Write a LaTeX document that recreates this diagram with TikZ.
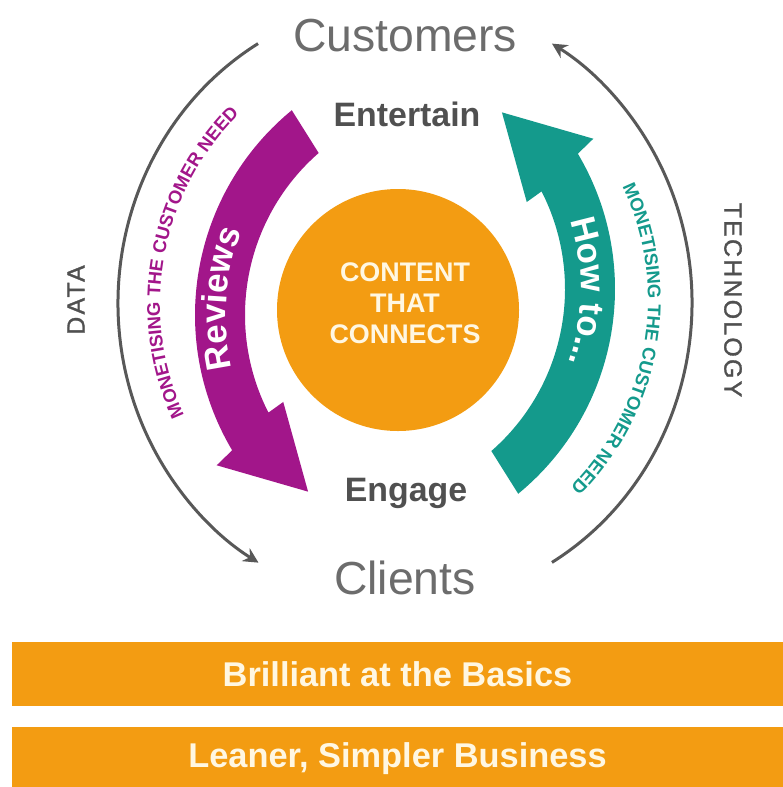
\documentclass[tikz,border=0pt]{standalone}
\usepackage{fontspec}
\setmainfont{Liberation Sans}
\usetikzlibrary{calc,arrows.meta,decorations.text}
\definecolor{orng}{RGB}{243,156,18}
\definecolor{purp}{RGB}{162,22,138}
\definecolor{tealc}{RGB}{20,154,140}
\definecolor{grayline}{RGB}{88,88,88}
\definecolor{graytxt}{RGB}{108,108,108}
\definecolor{darktxt}{RGB}{80,80,80}
\definecolor{cream}{RGB}{255,247,226}
\begin{document}
\begin{tikzpicture}[x=1bp,y=-1bp,
  ring/.style={line width=3bp, draw=grayline, -{Stealth[length=15bp,width=15bp]}},
  bigword/.style={inner sep=0, text=graytxt, font=\fontsize{46.5}{50}\selectfont},
  midword/.style={inner sep=0, text=darktxt, font=\bfseries\fontsize{34}{38}\selectfont},
  sideword/.style={inner sep=0, text=darktxt, font=\fontsize{25}{28}\selectfont\addfontfeature{LetterSpace=9,FakeBold=1.3}},
  bar/.style={fill=orng, draw=none, inner sep=0, minimum width=771bp, minimum height=64bp, text=cream},
  hubtext/.style={align=center, inner sep=0, text=cream, font=\bfseries\fontsize{27}{31}\selectfont},
  arctext/.style={decorate, decoration={text along path, text align=center, text color=#1}},
]
\useasboundingbox (0,0) rectangle (783,787);

% outer gray ring
\coordinate (oc) at (405,303);
\coordinate (dataStart) at ($(oc)+(239.2:287 and 302)$);
\coordinate (techStart) at ($(oc)+(59.2:287 and 302)$);
\draw[ring] (dataStart) arc[start angle=239.2, end angle=120.7, x radius=287, y radius=302];
\draw[ring] (techStart) arc[start angle=59.2, end angle=-59.2, x radius=287, y radius=302];

\node[bigword] (cust) at (405,36) {Customers};
\node[bigword] (cli) at (405,578) {Clients};
\node[sideword, rotate=90] (data) at (76,300) {DATA};
\node[sideword, rotate=-90] (tech) at (733,300) {TECHNOLOGY};

% hub
\node[circle, fill=orng, minimum size=242bp, inner sep=0] (hub) at (398,310) {};
\node[hubtext] (core) at (405,303) {CONTENT\\THAT\\CONNECTS};

\node[midword] (ent) at (407,114) {Entertain};
\node[midword] (eng) at (406,493) {Engage};

% purple arrow
\coordinate (pc) at (460,315);
\fill[purp] ($(pc)+(230.6:265)$) arc[start angle=230.6, end angle=149.3, radius=265]
  -- ($(pc)+(148.3:286)$) -- ($(pc)+(130.7:233)$) -- ($(pc)+(153.8:197)$)
  -- ($(pc)+(153:215)$) arc[start angle=153, end angle=228.9, radius=215] -- cycle;

% teal arrow
\coordinate (tc) at (350,289);
\fill[tealc] ($(tc)+(50.6:265)$) arc[start angle=50.6, end angle=-30.7, radius=265]
  -- ($(tc)+(-31.7:286)$) -- ($(tc)+(-49.3:233)$) -- ($(tc)+(-26.2:197)$)
  -- ($(tc)+(-27:215)$) arc[start angle=-27, end angle=48.9, radius=215] -- cycle;

% arrow labels
\path[arctext=white, decoration={text={|\bfseries\fontsize{35}{35}\selectfont|Reviews}}]
  ($(pc)+(144:234)$) arc[start angle=144, end angle=224, radius=234];
\path[arctext=white, decoration={text={|\bfseries\fontsize{35}{35}\selectfont|How to...}}]
  ($(tc)+(-39.3:231)$) arc[start angle=-39.3, end angle=40.7, radius=231];

% curved captions
\coordinate (ptc) at (426,304);
\coordinate (ttc) at (384,300);
\path[arctext=purp, decoration={text={|\bfseries\fontsize{18.5}{18.5}\selectfont|MONETISING THE CUSTOMER NEED}}]
  ($(ptc)+(145.4:266)$) arc[start angle=145.4, end angle=235.4, radius=266];
\path[arctext=tealc, decoration={text={|\bfseries\fontsize{18.5}{18.5}\selectfont|MONETISING THE CUSTOMER NEED}}]
  ($(ttc)+(-35.2:264)$) arc[start angle=-35.2, end angle=54.8, radius=264];

% foundation bars
\node[bar, font=\bfseries\fontsize{34.5}{38}\selectfont] (b1) at (397.5,674) {Brilliant at the Basics};
\node[bar, font=\bfseries\fontsize{34.5}{38}\selectfont] (b2) at (397.5,759) {Leaner, Simpler Business};
\end{tikzpicture}
\end{document}
